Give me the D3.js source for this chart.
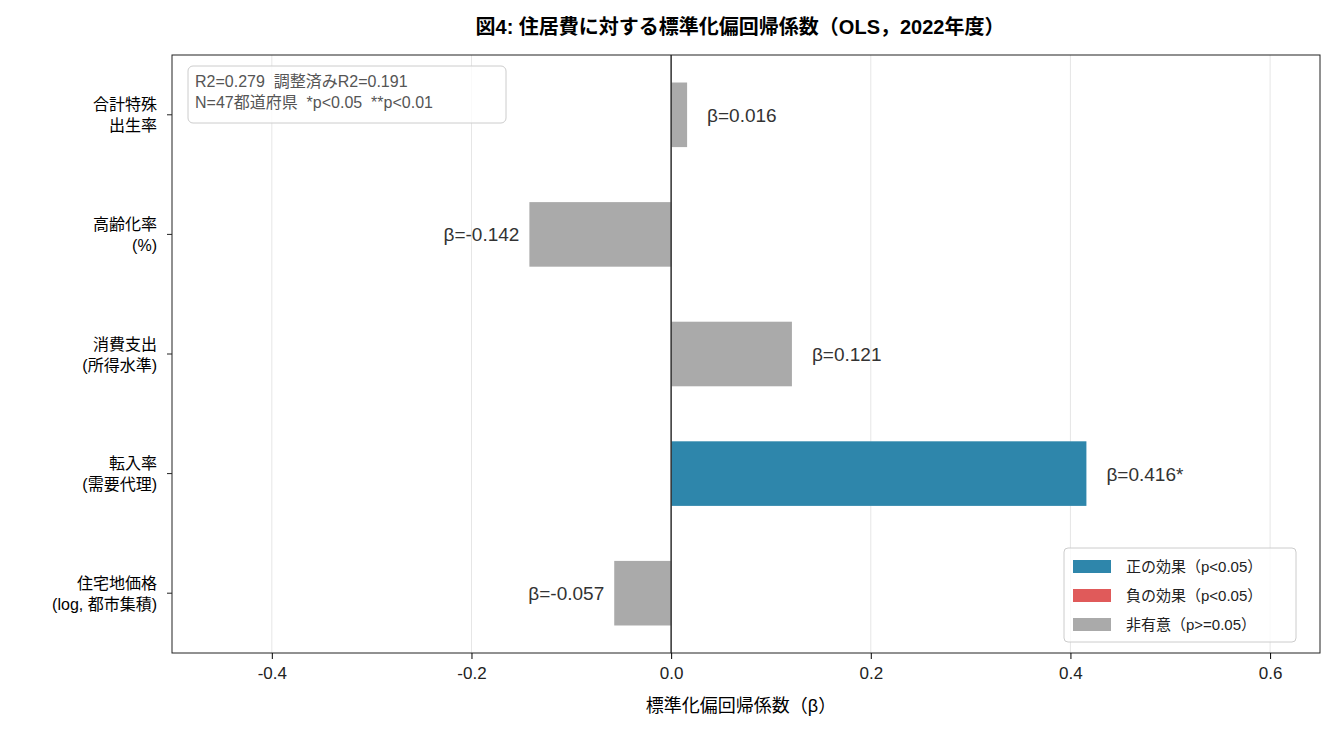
<!DOCTYPE html>
<html><head><meta charset="utf-8">
<script src="https://cdn.jsdelivr.net/npm/d3@7"></script>
<style>body{margin:0;background:#fff;} svg{font-family:"Liberation Sans","Noto Sans CJK JP",sans-serif;}</style>
</head><body><svg id="chart" width="1335" height="735"></svg>
<script>
const categories = ["合計特殊\n出生率", "高齢化率\n(%)", "消費支出\n(所得水準)", "転入率\n(需要代理)", "住宅地価格\n(log, 都市集積)"];
const betas = [0.016, -0.142, 0.121, 0.416, -0.057];
const sigLabels = ["", "", "", "*", ""];
const effects = ["ns", "ns", "ns", "pos", "ns"];
const xTicks = [-0.4, -0.2, 0.0, 0.2, 0.4, 0.6];
const legendItems = [["pos", "正の効果（p<0.05）"], ["neg", "負の効果（p<0.05）"], ["ns", "非有意（p>=0.05）"]];
const colors = { pos: "#2e86ab", neg: "#e05a5a", ns: "#aaaaaa" };

const svg = d3.select("#chart");
const m = { left: 172, right: 1320, top: 55, bottom: 653 };
const x = d3.scaleLinear().domain([-0.5, 0.65]).range([m.left, m.right]);
const y = d3.scaleBand().domain(d3.range(categories.length)).range([m.top, m.bottom]).paddingInner(0.46).paddingOuter(0.23);

svg.append("text").attr("x", 740).attr("y", 34).attr("text-anchor", "middle")
  .attr("font-size", 20).attr("font-weight", "bold").text("図4: 住居費に対する標準化偏回帰係数（OLS，2022年度）");

// grid
svg.append("g").selectAll("line").data(xTicks).join("line")
  .attr("x1", d => x(d)).attr("x2", d => x(d)).attr("y1", m.top).attr("y2", m.bottom)
  .attr("stroke", "#e6e6e6");

// bars
svg.append("g").selectAll("rect").data(betas).join("rect")
  .attr("x", d => x(Math.min(0, d))).attr("width", d => Math.abs(x(d) - x(0)))
  .attr("y", (d, i) => y(i)).attr("height", y.bandwidth())
  .attr("fill", (d, i) => colors[effects[i]]);

// zero line
svg.append("line").attr("x1", x(0)).attr("x2", x(0)).attr("y1", m.top).attr("y2", m.bottom)
  .attr("stroke", "#333").attr("stroke-width", 1.5);

// value labels
svg.append("g").selectAll("text").data(betas).join("text")
  .attr("x", d => d >= 0 ? x(d) + 20 : x(d) - 10)
  .attr("y", (d, i) => y(i) + y.bandwidth() / 2 + 7)
  .attr("text-anchor", d => d >= 0 ? "start" : "end")
  .attr("font-size", 19).attr("fill", "#333")
  .text((d, i) => "β=" + d.toFixed(3) + sigLabels[i]);

// frame
svg.append("rect").attr("x", m.left).attr("y", m.top).attr("width", m.right - m.left).attr("height", m.bottom - m.top)
  .attr("fill", "none").attr("stroke", "#222");

// x axis
const xa = svg.append("g").attr("transform", `translate(0,${m.bottom})`)
  .call(d3.axisBottom(x).tickValues(xTicks).tickFormat(d => d.toFixed(1)).tickSizeOuter(0));
xa.select(".domain").remove();
xa.selectAll("text").attr("font-size", 17).attr("fill", "#222").attr("dy", "1em")
  .attr("font-family", "Liberation Sans, sans-serif");
svg.append("text").attr("x", x(0.075) - 5).attr("y", 712).attr("text-anchor", "middle")
  .attr("font-size", 18).text("標準化偏回帰係数（β）");

// y axis labels
const ya = svg.append("g");
categories.forEach((c, i) => {
  const cy = y(i) + y.bandwidth() / 2;
  ya.append("line").attr("x1", m.left - 5).attr("x2", m.left).attr("y1", cy).attr("y2", cy).attr("stroke", "#222");
  const lines = c.split("\n");
  lines.forEach((l, j) => {
    ya.append("text").attr("x", m.left - 15).attr("y", cy + (j - (lines.length - 1) / 2) * 21 + 6)
      .attr("text-anchor", "end").attr("font-size", 16).text(l);
  });
});

// stats box
const sb = svg.append("g");
sb.append("rect").attr("x", 188).attr("y", 66).attr("width", 318).attr("height", 57).attr("rx", 5)
  .attr("fill", "#fff").attr("fill-opacity", 0.8).attr("stroke", "#ccc");
["R2=0.279  調整済みR2=0.191", "N=47都道府県  *p<0.05  **p<0.01"].forEach((t, i) => {
  sb.append("text").attr("x", 195).attr("y", 87 + i * 21).attr("font-size", 16).attr("fill", "#555")
    .attr("xml:space", "preserve").text(t);
});

// legend
const lg = svg.append("g");
lg.append("rect").attr("x", 1064).attr("y", 548).attr("width", 232).attr("height", 94).attr("rx", 4)
  .attr("fill", "#fff").attr("fill-opacity", 0.8).attr("stroke", "#ccc");
legendItems.forEach(([k, t], i) => {
  lg.append("rect").attr("x", 1073).attr("y", 560 + i * 29).attr("width", 38).attr("height", 13).attr("fill", colors[k]);
  lg.append("text").attr("x", 1126).attr("y", 572 + i * 29).attr("font-size", 15).attr("fill", "#222").text(t);
});
</script></body></html>
